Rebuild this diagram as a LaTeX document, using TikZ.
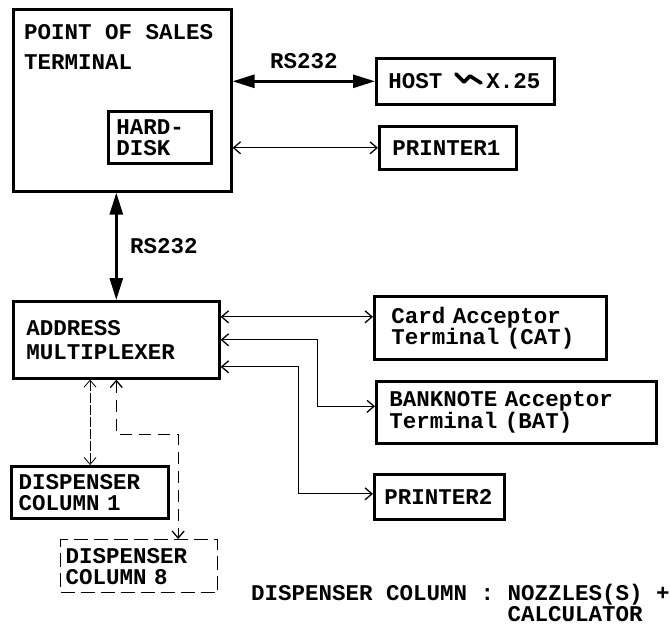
\documentclass[tikz,border=0pt]{standalone}
\usepackage{fontspec}
\setmainfont{Liberation Mono}[WordSpace={1,0,0}]
\usepackage{tikz}
\usetikzlibrary{arrows.meta,calc,positioning}

\begin{document}
\begin{tikzpicture}[
  x=1pt, y=-1pt,
  font=\fontsize{22.5}{21}\selectfont\bfseries,
  box/.style={draw, line width=2.6pt, anchor=north west, align=left, inner ysep=0pt},
  dashbox/.style={draw, line width=1.3pt, dash pattern=on 14pt off 6pt, anchor=north west, align=left, inner ysep=0pt},
  bigarr/.style={{Triangle[length=22pt,width=13pt]}-{Triangle[length=22pt,width=13pt]}, line width=2.8pt},
  arr/.style={{Straight Barb[length=7pt,width=12pt]}-{Straight Barb[length=7pt,width=12pt]}, line width=1.3pt},
  dotarr/.style={arr, line width=0.8pt, dash pattern=on 10pt off 2pt},
  dasharr/.style={arr, line width=1.3pt, dash pattern=on 12pt off 7pt}
]
\useasboundingbox (0,0) rectangle (670,625);
% terminal and its disk
\node[box, minimum width=218pt, minimum height=182pt] (pos) at (12,8) {};
\node[anchor=north west, align=left, inner sep=0pt, font=\fontsize{22.5}{30}\selectfont\bfseries] (postxt) at (24,24) {POINT OF SALES\\TERMINAL};
\node[box, text width=87pt, inner xsep=8pt, minimum height=52pt] (disk) at (107,110) {HARD-\\DISK};
% host side
\node[box, text width=154pt, inner xsep=12pt, minimum height=46pt] (host) at (375,57) {HOST\hspace{44pt}X.25};
\draw[line width=3.6pt, line cap=round, line join=round] (456,74) -- (464,82) -- (470,76) -- (481,83);
\node[box, text width=111pt, inner xsep=13pt, minimum height=43pt] (printer1) at (378,125) {PRINTER1};
% multiplexer and peripherals
\node[box, text width=180pt, inner xsep=13pt, minimum height=77pt, font=\fontsize{22.5}{24}\selectfont\bfseries] (addr) at (12,300) {ADDRESS\\MULTIPLEXER};
\node[box, text width=198pt, inner xsep=17pt, minimum height=63pt] (cat) at (373,295) {Card Acceptor\\Terminal (CAT)};
\node[box, text width=254pt, inner xsep=13pt, minimum height=62pt] (bat) at (375,380) {BANKNOTE Acceptor\\Terminal (BAT)};
\node[box, text width=110pt, inner xsep=10pt, minimum height=45pt] (printer2) at (373,473) {PRINTER2};
\node[box, line width=3.2pt, text width=143pt, inner xsep=7pt, minimum height=52pt] (disp1) at (10,465) {DISPENSER\\COLUMN 1};
\node[dashbox, text width=147pt, inner xsep=5pt, minimum height=53pt] (disp8) at (60,539) {DISPENSER\\COLUMN 8};
\node[anchor=north west, align=left, inner sep=0pt, font=\fontsize{22.5}{20.5}\selectfont\bfseries] (legend) at (251,584) {DISPENSER COLUMN : NOZZLES(S) +\\\phantom{DISPENSER COLUMN : }CALCULATOR};
% links
\draw[bigarr] (host.west -| pos.east) -- (host.west) node[midway, above=8pt] (rstop) {RS232};
\draw[arr] (printer1.west -| pos.east) -- (printer1.west);
\draw[bigarr] ([xshift=-6pt]pos.south) -- ([xshift=-6pt]pos.south |- addr.north) node[midway, right=9pt] (rsleft) {RS232};
\draw[arr] ([yshift=23pt]addr.east) -- ([yshift=23pt]addr.east -| cat.west);
\draw[arr] (addr.east) -- ++(97pt,0) |- ([yshift=6pt]bat.west);
\draw[arr] ([yshift=-27pt]addr.east) -- ++(78pt,0) |- ([yshift=3pt]printer2.west);
\draw[dotarr] (disp1.north |- addr.south) -- (disp1.north);
\draw[dasharr] (addr.south) -- ++(0,-55pt) -| ([xshift=39pt]disp8.north);
\end{tikzpicture}
\end{document}
